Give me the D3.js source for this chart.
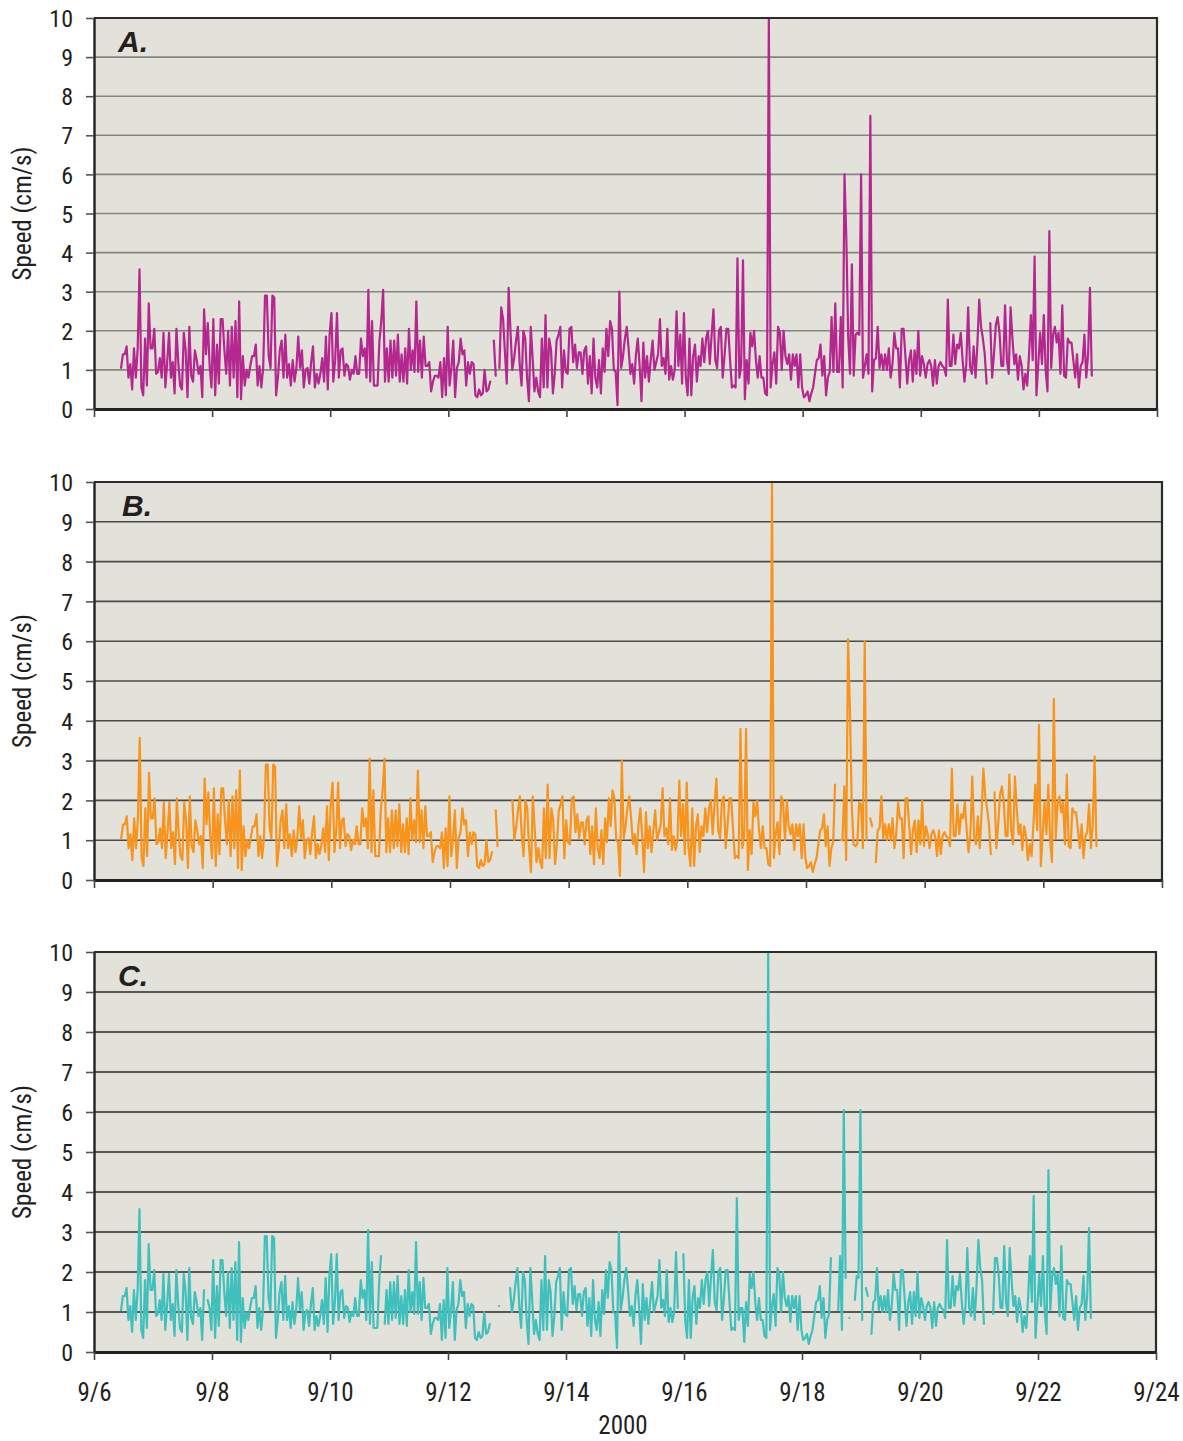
<!DOCTYPE html>
<html><head><meta charset="utf-8">
<script src="https://cdn.jsdelivr.net/npm/d3@7"></script>
<style>body{margin:0;background:#fff}</style>
</head><body>
<svg id="chart" width="1183" height="1441"></svg>
<script>
// ---------- data ----------
const panelLabels = ["A.", "B.", "C."];
const yTickValues = [0, 1, 2, 3, 4, 5, 6, 7, 8, 9, 10];
const xTickLabels = ["9/6", "9/8", "9/10", "9/12", "9/14", "9/16", "9/18", "9/20", "9/22", "9/24"];
const yearLabel = "2000";
const yTitle = "Speed (cm/s)";
const startTime = [2000, 8, 6, 11, 0]; // 6 Sept 2000, 11:00
const stepMinutes = 45;

const speedA = [
1.05,1.4,1.4,1.6,0.8,1.15,0.5,1.55,0.8,1.55,3.57,0.55,0.35,1.8,0.6,2.7,1.55,1.55,2.05,0.9,
0.95,1.3,0.8,1.95,0.55,1.2,1.95,0.8,1.2,0.4,2.05,1.2,0.6,0.5,1.95,1.5,0.3,2.1,0.85,0.7,
1.5,1.25,0.9,1.1,0.3,2.55,1.4,2.2,1.1,0.55,2.3,0.35,1.65,0.65,2.3,2.3,1.5,0.9,2.0,0.6,
2.1,0.8,2.25,0.3,2.75,0.25,1.35,0.6,1.0,0.8,1.1,1.35,1.35,1.65,0.6,1.1,0.55,1.05,2.9,2.9,
1.35,1.05,2.9,2.85,0.35,0.8,1.5,1.75,0.8,1.9,0.8,1.15,0.6,1.25,0.7,1.05,1.85,1.05,1.5,0.55,
1.0,1.05,0.65,1.2,1.6,0.55,0.9,0.65,0.9,1.3,0.7,1.85,0.5,1.9,2.45,0.7,1.25,2.45,0.8,1.5,
1.55,0.85,1.15,1.1,0.75,1.0,0.9,1.35,0.9,0.9,1.8,1.35,1.55,0.8,3.05,0.7,2.25,0.6,0.6,0.6,
1.75,2.25,3.05,0.7,1.55,0.7,1.75,0.8,1.75,0.85,1.9,0.7,1.4,0.7,1.55,0.65,2.05,1.0,1.5,0.95,
2.75,0.95,1.75,0.8,1.85,1.1,1.1,1.2,0.45,0.7,0.85,0.85,0.8,1.2,0.3,1.3,0.35,2.1,0.6,1.05,
1.75,0.3,1.05,1.2,1.8,1.4,1.5,0.6,1.2,0.9,1.2,1.15,0.35,0.3,0.5,0.35,0.4,1.0,0.45,0.5,
0.7,null,1.75,0.85,null,1.05,2.6,2.3,1.45,0.65,3.1,2.0,1.0,1.3,1.75,2.1,1.15,0.6,2.0,1.8,
0.8,0.2,2.1,1.3,0.45,0.8,0.45,0.3,1.8,0.55,2.4,0.55,1.8,1.5,0.4,0.9,1.75,1.9,2.1,0.55,
1.5,0.95,0.9,2.05,2.1,1.2,1.65,1.05,1.45,1.45,0.9,1.5,1.6,0.65,1.35,0.4,1.8,0.8,0.55,1.25,
0.4,1.55,0.95,2.05,1.35,2.25,2.05,1.0,0.95,0.1,3.0,1.05,1.35,1.8,2.1,1.55,0.9,1.15,0.65,1.4,
1.8,1.1,0.2,1.7,0.8,1.35,0.7,1.25,1.75,1.0,1.2,1.4,2.3,1.1,1.3,0.9,2.05,0.75,1.1,0.75,
1.0,2.5,1.1,1.9,0.65,2.45,0.8,0.35,1.8,0.35,1.35,1.65,0.7,1.35,1.1,1.8,1.2,1.8,2.0,1.15,
1.9,2.55,1.25,1.05,2.0,2.1,0.8,1.35,2.05,2.05,1.25,0.55,0.6,0.55,3.85,0.8,1.1,3.8,0.25,1.25,
0.65,1.95,1.6,2.0,1.25,0.8,1.35,0.8,0.8,0.4,0.35,10,0.55,1.15,1.45,0.65,2.1,1.95,1.0,2.0,
1.35,1.15,1.4,0.75,1.4,1.1,1.4,0.55,1.4,0.55,0.3,0.35,0.45,0.2,0.4,0.55,0.9,1.25,1.3,1.65,
0.85,1.35,0.35,0.8,0.95,2.35,0.95,2.7,0.95,0.95,2.35,0.55,6.0,4.35,1.85,0.9,3.7,0.85,1.9,1.95,
1.9,6.0,0.8,1.1,1.4,0.9,7.5,0.45,1.25,1.3,2.1,1.05,1.4,1.0,1.4,1.0,1.55,0.8,1.15,1.95,
1.55,1.55,0.55,2.05,2.05,1.35,0.65,1.25,1.5,0.7,1.5,0.9,2.0,0.85,1.35,1.15,0.8,1.15,1.25,1.1,
0.6,1.25,0.65,1.1,1.2,1.1,1.05,0.85,2.8,1.1,1.1,1.9,1.15,1.65,1.55,1.95,1.25,0.7,1.15,2.6,
1.1,0.9,1.6,0.8,1.65,2.8,2.1,1.8,1.4,0.65,null,2.2,0.8,1.4,2.15,2.35,1.95,1.1,1.1,2.65,
1.25,0.9,2.6,1.8,1.15,1.4,0.75,1.35,1.1,0.5,0.9,0.6,1.4,2.4,1.25,3.9,0.35,1.15,1.95,1.15,
2.4,1.0,0.45,4.55,1.05,1.9,2.1,1.7,1.95,0.9,2.65,0.85,0.8,1.8,1.7,1.7,1.25,0.8,1.4,0.55,
1.1,1.2,1.9,0.8,1.4,3.1,0.85
];

const speedB = [
1.05,1.4,1.4,1.6,0.8,1.15,0.5,1.55,0.8,1.55,3.57,0.55,0.35,1.8,0.6,2.7,1.55,1.55,2.05,0.9,
0.95,1.3,0.8,1.95,0.55,1.2,1.95,0.8,1.2,0.4,2.05,1.2,0.6,0.5,1.95,1.5,0.3,2.1,0.85,0.7,
1.5,1.25,0.9,1.1,0.3,2.55,1.4,2.2,1.1,0.55,2.3,0.35,1.65,0.65,2.3,2.3,1.5,0.9,2.0,0.6,
2.1,0.8,2.25,0.3,2.75,0.25,1.35,0.6,1.0,0.8,1.1,1.35,1.35,1.65,0.6,1.1,0.55,1.05,2.9,2.9,
1.35,1.05,2.9,2.85,0.35,0.8,1.5,1.75,0.8,1.9,0.8,1.15,0.6,1.25,0.7,1.05,1.85,1.05,1.5,0.55,
1.0,1.05,0.65,1.2,1.6,0.55,0.9,0.65,0.9,1.3,0.7,1.85,0.5,1.9,2.45,0.7,1.25,2.45,0.8,1.5,
1.55,0.85,1.15,1.1,0.75,1.0,0.9,1.35,0.9,0.9,1.8,1.35,1.55,0.8,3.05,0.7,2.25,0.6,0.6,0.6,
1.75,2.25,3.05,0.7,1.55,0.7,1.75,0.8,1.75,0.85,1.9,0.7,1.4,0.7,1.55,0.65,2.05,1.0,1.5,0.95,
2.75,0.95,1.75,0.8,1.85,1.1,1.1,1.2,0.45,0.7,0.85,0.85,0.8,1.2,0.3,1.3,0.35,2.1,0.6,1.05,
1.75,0.3,1.05,1.2,1.8,1.4,1.5,0.6,1.2,0.9,1.2,1.15,0.35,0.3,0.5,0.35,0.4,1.0,0.45,0.5,
0.7,null,1.75,0.85,null,null,null,null,null,null,null,2.0,1.0,1.3,1.75,2.1,1.15,0.6,2.0,1.8,
0.8,0.2,2.1,1.3,0.45,0.8,0.45,0.3,1.8,0.55,2.4,0.55,1.8,1.5,0.4,0.9,1.75,1.9,2.1,0.55,
1.5,0.95,0.9,2.05,2.1,1.2,1.65,1.05,1.45,1.45,0.9,1.5,1.6,0.65,1.35,0.4,1.8,0.8,0.55,1.25,
0.4,1.55,0.95,2.05,1.35,2.25,2.05,1.0,0.95,0.1,3.0,1.05,1.35,1.8,2.1,1.55,0.9,1.15,0.65,1.4,
1.8,1.1,0.2,1.7,0.8,1.35,0.7,1.25,1.75,1.0,1.2,1.4,2.3,1.1,1.3,0.9,2.05,0.75,1.1,0.75,
1.0,2.5,1.1,1.9,0.65,2.45,0.8,0.35,1.8,0.35,1.35,1.65,0.7,1.35,1.1,1.8,1.2,1.8,2.0,1.15,
1.9,2.55,1.25,1.05,2.0,2.1,0.8,1.35,2.05,2.05,1.25,0.55,0.6,0.55,3.8,0.8,1.1,3.8,0.25,1.25,
0.65,1.95,1.6,2.0,1.25,0.8,1.35,0.8,0.8,0.4,0.35,10,0.55,1.15,1.45,0.65,2.1,1.95,1.0,2.0,
1.35,1.15,1.4,0.75,1.4,1.1,1.4,0.55,1.4,0.55,0.3,0.35,0.45,0.2,0.4,0.55,0.9,1.25,1.3,1.65,
0.85,1.35,0.35,0.8,0.95,2.4,null,null,1.0,1.0,2.35,0.5,6.05,4.35,1.9,0.9,0.85,0.9,1.95,1.9,
0.8,6.0,1.0,null,1.55,1.35,null,0.45,1.25,1.3,2.1,1.05,1.4,1.0,1.4,1.0,1.55,0.8,1.15,1.95,
1.55,1.55,0.55,2.05,2.05,1.35,0.65,1.25,1.5,0.7,1.5,0.9,2.0,0.85,1.35,1.15,0.8,1.15,1.25,1.1,
0.6,1.25,0.65,1.1,1.2,1.1,1.05,0.85,2.8,1.1,1.1,1.9,1.15,1.65,1.55,1.95,1.25,0.7,1.15,2.6,
1.1,0.9,1.6,0.8,1.65,2.8,2.1,1.8,1.4,0.65,null,2.2,0.8,1.4,2.15,2.35,1.95,1.1,1.1,2.65,
1.25,0.9,2.6,1.8,1.15,1.4,0.75,1.35,1.1,0.5,0.9,0.6,1.4,2.4,1.25,3.9,0.35,1.15,1.95,1.15,
2.4,1.0,0.45,4.55,1.05,1.9,2.1,1.7,1.95,0.9,2.65,0.85,0.8,1.8,1.7,1.7,1.25,0.8,1.4,0.55,
1.1,1.2,1.9,0.8,1.4,3.1,0.85
];

const speedC = [
1.05,1.4,1.4,1.6,0.8,1.15,0.5,1.55,0.8,1.55,3.57,0.55,0.35,1.8,0.6,2.7,1.55,1.55,2.05,0.9,
0.95,1.3,0.8,1.95,0.55,1.2,1.95,0.8,1.2,0.4,2.05,1.2,0.6,0.5,1.95,1.5,0.3,2.1,0.85,0.7,
1.5,1.25,0.9,1.1,0.3,1.55,null,1.3,1.1,0.55,2.3,0.35,1.65,0.65,2.3,2.3,1.5,0.9,2.0,0.6,
2.1,0.8,2.25,0.3,2.75,0.25,1.35,0.6,1.0,0.8,1.1,1.35,1.35,1.65,0.6,1.1,0.55,1.05,2.9,2.9,
1.35,1.05,2.9,2.85,0.35,0.8,1.5,1.75,0.8,1.9,0.8,1.15,0.6,1.25,0.7,1.05,1.85,1.05,1.5,0.55,
1.0,1.05,0.65,1.2,1.6,0.55,0.9,0.65,0.9,1.3,0.7,1.85,0.5,1.9,2.45,0.7,1.25,2.45,0.8,1.5,
1.55,0.85,1.15,1.1,0.75,1.0,0.9,1.35,0.9,0.9,1.8,1.35,1.55,0.8,3.05,0.7,2.25,0.6,0.6,0.6,
1.75,2.4,null,0.7,1.55,0.7,1.75,0.8,1.75,0.85,1.9,0.7,1.4,0.7,1.55,0.65,2.05,1.0,1.5,0.95,
2.75,0.95,1.75,0.8,1.85,1.1,1.1,1.2,0.45,0.7,0.85,0.85,0.8,1.2,0.3,1.3,0.35,2.1,0.6,1.05,
1.75,0.3,1.05,1.2,1.8,1.4,1.5,0.6,1.2,0.9,1.2,1.15,0.35,0.3,0.5,0.35,0.4,1.0,0.45,0.5,
0.7,null,null,null,null,1.15,null,null,null,null,null,1.6,1.0,1.3,1.75,2.1,1.15,0.6,2.0,1.8,
0.8,0.2,2.1,1.3,0.45,0.8,0.45,0.3,1.8,0.55,2.4,0.55,1.8,1.5,0.4,0.9,1.75,1.9,2.1,0.55,
1.5,0.95,0.9,2.05,2.1,1.2,1.65,1.05,1.45,1.45,0.9,1.5,1.6,0.65,1.35,0.4,1.8,0.8,0.55,1.25,
0.4,1.55,0.95,2.05,1.35,2.25,2.05,1.0,0.95,0.1,3.0,1.05,1.35,1.8,2.1,1.55,0.9,1.15,0.65,1.4,
1.8,1.1,0.2,1.7,0.8,1.35,0.7,1.25,1.75,1.0,1.2,1.4,2.3,1.1,1.3,0.9,2.05,0.75,1.1,0.75,
1.0,2.5,1.1,null,null,2.45,0.8,0.35,1.8,0.35,1.35,1.65,0.7,1.35,1.1,1.8,1.2,1.8,2.0,1.15,
1.9,2.55,1.25,1.05,2.0,2.1,0.8,1.35,2.05,2.05,1.25,0.55,0.6,0.55,3.85,0.8,1.1,1.1,0.25,1.25,
0.65,1.95,1.6,2.0,1.25,0.8,1.35,0.8,0.8,0.4,0.35,10,0.55,1.15,1.45,0.65,2.1,1.95,1.0,2.0,
1.35,1.15,1.4,0.75,1.4,1.1,1.4,0.55,1.4,0.55,0.3,0.35,0.45,0.2,0.4,0.55,0.9,1.25,1.3,1.65,
0.85,1.35,0.35,0.8,0.95,2.35,null,null,null,1.05,2.4,0.55,6.05,1.85,null,0.85,null,null,1.3,1.9,
1.85,6.05,0.8,null,1.6,1.4,null,0.45,1.25,1.3,2.1,1.05,1.4,1.0,1.4,1.0,1.55,0.8,1.15,1.95,
1.55,1.55,0.55,2.05,2.05,1.35,0.65,1.25,1.5,0.7,1.5,0.9,2.0,0.85,1.35,1.15,0.8,1.15,1.25,1.1,
0.6,1.25,0.65,1.1,1.2,1.1,1.05,0.85,2.8,1.1,1.1,1.9,1.15,1.65,1.55,1.95,1.25,0.7,1.15,2.6,
1.1,0.9,1.6,0.8,1.65,2.8,2.1,1.8,0.7,null,null,null,null,0.95,2.35,2.35,1.95,1.1,1.1,2.65,
1.25,0.9,2.6,1.8,1.15,1.4,0.75,1.35,1.1,0.5,0.9,0.6,1.4,2.4,1.25,3.9,0.35,1.15,1.95,1.15,
2.4,1.0,0.45,4.55,1.05,1.9,2.1,1.7,1.95,0.9,2.65,0.85,0.8,1.8,1.7,1.7,1.25,0.8,1.4,0.55,
1.1,1.2,1.9,0.8,1.4,3.1,0.85
];

// ---------- layout ----------
const panels = [
  {data: speedA, label: panelLabels[0], color: "#b3278f", grid: "#858582", top: 18,  bottom: 409, left: 94, right: 1157, labelX: 118, showX: false},
  {data: speedB, label: panelLabels[1], color: "#f7941d", grid: "#4a4a48", top: 482, bottom: 880, left: 94, right: 1162, labelX: 122, showX: false},
  {data: speedC, label: panelLabels[2], color: "#3fc0bd", grid: "#2a2a28", top: 952, bottom: 1352, left: 94, right: 1156, labelX: 118, showX: true}
];
const narrow = "'Liberation Sans Narrow','Arial Narrow','Roboto Condensed','DejaVu Sans Condensed',sans-serif";

const svg = d3.select("#chart");
const t0 = new Date(...startTime);
const timeAt = i => new Date(t0.getTime() + i * stepMinutes * 60000);
const parseTick = s => { const [m, d] = s.split("/").map(Number); return new Date(2000, m - 1, d); };
const xTicks = xTickLabels.map(parseTick);
const fmt = d3.timeFormat("%-m/%-d");

panels.forEach((p, k) => {
  const x = d3.scaleTime().domain([xTicks[0], xTicks[xTicks.length - 1]]).range([p.left, p.right]);
  const y = d3.scaleLinear().domain([0, 10]).range([p.bottom, p.top]);
  const g = svg.append("g");

  g.append("rect").attr("x", p.left).attr("y", p.top)
    .attr("width", p.right - p.left).attr("height", p.bottom - p.top).attr("fill", "#e3e2da");

  g.selectAll("line.grid").data(yTickValues.filter(v => v > 0 && v < 10)).join("line")
    .attr("class", "grid")
    .attr("x1", p.left).attr("x2", p.right)
    .attr("y1", d => y(d)).attr("y2", d => y(d))
    .attr("stroke", p.grid).attr("stroke-width", 1.6);

  const clipId = "clip" + k;
  svg.append("clipPath").attr("id", clipId).append("rect")
    .attr("x", p.left).attr("y", p.top - 1).attr("width", p.right - p.left).attr("height", p.bottom - p.top + 1);

  const line = d3.line()
    .defined(d => d != null)
    .x((d, i) => x(timeAt(i)))
    .y(d => y(d));

  g.append("path").datum(p.data)
    .attr("clip-path", `url(#${clipId})`)
    .attr("d", line)
    .attr("fill", "none").attr("stroke", p.color)
    .attr("stroke-width", 2.2).attr("stroke-linejoin", "round").attr("stroke-linecap", "round");

  // frame: top and right
  g.append("path")
    .attr("d", `M${p.left},${p.top}H${p.right}V${p.bottom}`)
    .attr("fill", "none").attr("stroke", "#2b2b2b").attr("stroke-width", 2.2);

  // y axis
  const ya = g.append("g").attr("transform", `translate(${p.left},0)`)
    .call(d3.axisLeft(y).tickValues(yTickValues).tickSize(8).tickSizeOuter(0).tickPadding(13).tickFormat(d3.format("d")));
  ya.select(".domain").attr("stroke", "#222").attr("stroke-width", 2.4);
  ya.selectAll(".tick line").attr("stroke", "#555").attr("stroke-width", 1.6);
  ya.selectAll(".tick text").attr("font-family", narrow).attr("font-size", 24).attr("fill", "#231f20").attr("dy", "0.36em");

  // x axis
  const xa = g.append("g").attr("transform", `translate(0,${p.bottom})`)
    .call(d3.axisBottom(x).tickValues(xTicks).tickSize(8).tickSizeOuter(0).tickPadding(23)
      .tickFormat(p.showX ? fmt : () => ""));
  xa.select(".domain").attr("stroke", "#222").attr("stroke-width", 2.8);
  xa.selectAll(".tick line").attr("stroke", "#444").attr("stroke-width", 1.6);
  xa.selectAll(".tick text").attr("font-family", narrow).attr("font-size", 25).attr("fill", "#231f20");

  // panel label
  g.append("text").attr("x", p.labelX).attr("y", p.top + 34)
    .attr("font-family", "'Liberation Sans',Arial,sans-serif").attr("font-weight", "bold").attr("font-style", "italic")
    .attr("font-size", 30).attr("fill", "#231f20").text(p.label);

  // y title
  const cy = (p.top + p.bottom) / 2;
  g.append("text").attr("transform", `translate(31,${cy}) rotate(-90)`)
    .attr("text-anchor", "middle").attr("font-family", narrow).attr("font-size", 25).attr("fill", "#231f20")
    .text(yTitle);
});

svg.append("text").attr("x", 623).attr("y", 1434).attr("text-anchor", "middle")
  .attr("font-family", narrow).attr("font-size", 25).attr("fill", "#231f20").text(yearLabel);
</script>
</body></html>
